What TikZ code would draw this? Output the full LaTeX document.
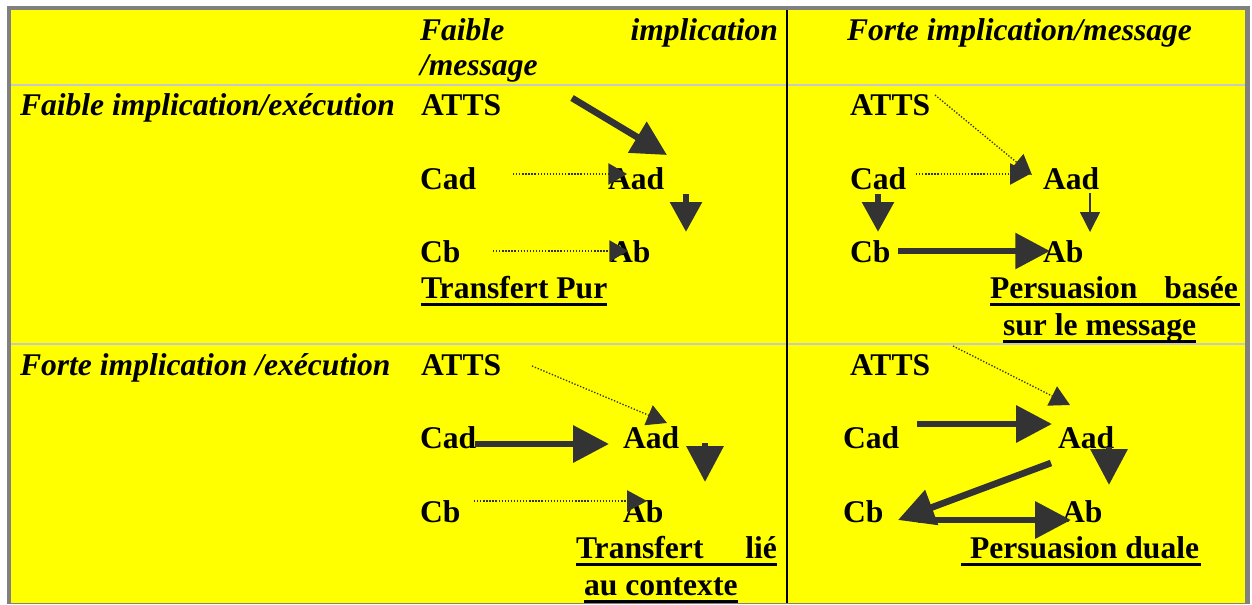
\documentclass[tikz,border=0pt]{standalone}
\usepackage{fontspec}
\setmainfont{Liberation Serif}
\usetikzlibrary{arrows.meta}

\definecolor{cellyellow}{RGB}{255,255,0}
\definecolor{framegrey}{RGB}{128,128,128}
\definecolor{rulegrey}{RGB}{200,200,200}
\definecolor{arrowgrey}{RGB}{51,51,51}

\begin{document}
\begin{tikzpicture}[
    x=0.75pt, y=-0.75pt,
    all/.style={inner sep=0pt, outer sep=0pt, anchor=base west},
    var/.style={all, font=\fontsize{23.7}{28}\selectfont\bfseries},
    head/.style={all, font=\fontsize{23.7}{28}\selectfont\bfseries\itshape},
    uline/.style={line width=2.25pt},
    big/.style={arrowgrey, line width=5pt, -{Triangle[length=27pt, width=27pt]}},
    mid/.style={big, -{Triangle[length=22.5pt, width=23pt]}},
    thin/.style={arrowgrey, line width=1.1pt, -{Triangle[length=15pt, width=15pt]}},
    weak/.style={arrowgrey, line width=1pt, dash pattern=on 1pt off 1.3pt,
        -{Triangle[length=15pt, width=16pt]}},
]
    \useasboundingbox (0,0) rectangle (1252,604);
    \fill[white] (0,0) rectangle (1252,604);
    \fill[framegrey] (7,6) rectangle (1250,604);
    \fill[cellyellow] (11,10) rectangle (1245,603);
    \draw[rulegrey, line width=1.5pt] (11,84.5) -- (1245,84.5);
    \draw[rulegrey, line width=1.5pt] (11,343.5) -- (1245,343.5);
    \draw[black, line width=1.5pt] (787,10) -- (787,603);

    % headers
    \node[head] (colweak) at (420,40) {\makebox[268.5pt][s]{Faible implication}};
    \node[head] (colweakb) at (420,75) {/message};
    \node[head] (colstrong) at (847,40) {Forte implication/message};
    \node[head] (rowweak) at (20,115) {Faible implication/exécution};
    \node[head] (rowstrong) at (20,375) {Forte implication /exécution};

    % faible / faible
    \node[var] (atts1) at (421,115) {ATTS};
    \node[var] (cad1) at (420,189) {Cad};
    \node[var] (aad1) at (608,189) {Aad};
    \node[var] (cb1) at (420,262) {Cb};
    \node[var] (ab1) at (610,262) {Ab};
    \node[var] (pur) at (421,298) {Transfert Pur};
    \coordinate (a1s) at (572,98);   \coordinate (a1e) at (667,155);
    \coordinate (c1s) at (513,174);  \coordinate (c1e) at (627,174);
    \coordinate (d1s) at (686,194);  \coordinate (d1e) at (686,232);
    \coordinate (b1s) at (493,251);  \coordinate (b1e) at (628,251);
    \draw[big, -{Triangle[length=26pt, width=26pt]}] (a1s) -- (a1e);
    \draw[weak, -{Triangle[length=14pt, width=16pt]}] (c1s) -- (c1e);
    \draw[mid] (d1s) -- (d1e);
    \draw[weak, -{Triangle[length=14pt, width=16pt]}] (b1s) -- (b1e);
    \draw[uline] ([yshift=-4.5pt]pur.base west) -- ([yshift=-4.5pt]pur.base east);

    % faible execution / forte message
    \node[var] (atts2) at (850,115) {ATTS};
    \node[var] (cad2) at (850,189) {Cad};
    \node[var] (aad2) at (1043,189) {Aad};
    \node[var] (cb2) at (850,262) {Cb};
    \node[var] (ab2) at (1043,262) {Ab};
    \node[var] (basee) at (990,298) {\makebox[186pt][s]{Persuasion basée}};
    \node[var] (baseeb) at (1003,335) {sur le message};
    \coordinate (a2s) at (935,95);   \coordinate (a2e) at (1032,175);
    \coordinate (c2s) at (916,174);  \coordinate (c2e) at (1030,174);
    \coordinate (d2s) at (878,194);  \coordinate (d2e) at (878,232);
    \coordinate (e2s) at (1090,193); \coordinate (e2e) at (1090,232);
    \coordinate (b2s) at (898,251);  \coordinate (b2e) at (1050,251);
    \draw[weak] (a2s) -- (a2e);
    \draw[weak] (c2s) -- (c2e);
    \draw[mid] (d2s) -- (d2e);
    \draw[thin] (e2s) -- (e2e);
    \draw[big, -{Triangle[length=26pt, width=26pt]}] (b2s) -- (b2e);
    \draw[uline] ([yshift=-4.5pt]basee.base west) -- ([xshift=1.5pt, yshift=-4.5pt]basee.base east);
    \draw[uline] ([yshift=-4.5pt]baseeb.base west) -- ([yshift=-4.5pt]baseeb.base east);

    % forte execution / faible message
    \node[var] (atts3) at (421,375) {ATTS};
    \node[var] (cad3) at (420,448) {Cad};
    \node[var] (aad3) at (623,448) {Aad};
    \node[var] (cb3) at (420,522) {Cb};
    \node[var] (ab3) at (623,522) {Ab};
    \node[var] (lie) at (576,558) {\makebox[150.75pt][s]{Transfert lié}};
    \node[var] (lieb) at (584,595) {au contexte};
    \coordinate (a3s) at (532,366);  \coordinate (a3e) at (667,423);
    \coordinate (c3s) at (475,444);  \coordinate (c3e) at (609,444);
    \coordinate (d3s) at (705,443);  \coordinate (d3e) at (705,482);
    \coordinate (b3s) at (474,501);  \coordinate (b3e) at (647,501);
    \draw[weak] (a3s) -- (a3e);
    \draw[big] (c3s) -- (c3e);
    \draw[big] (d3s) -- (d3e);
    \draw[weak] (b3s) -- (b3e);
    \draw[uline] ([yshift=-4.5pt]lie.base west) -- ([yshift=-4.5pt]lie.base east);
    \draw[uline] ([yshift=-4.5pt]lieb.base west) -- ([yshift=-4.5pt]lieb.base east);

    % forte / forte
    \node[var] (atts4) at (850,375) {ATTS};
    \node[var] (cad4) at (843,448) {Cad};
    \node[var] (aad4) at (1058,448) {Aad};
    \node[var] (cb4) at (843,522) {Cb};
    \node[var] (ab4) at (1062,522) {Ab};
    \node[var] (duale) at (970,558) {Persuasion duale};
    \coordinate (a4s) at (953,346);  \coordinate (a4e) at (1070,405);
    \coordinate (c4s) at (917,424);  \coordinate (c4e) at (1052,424);
    \coordinate (d4s) at (1109,447); \coordinate (d4e) at (1109,485);
    \coordinate (e4s) at (1051,463); \coordinate (e4e) at (898,520);
    \coordinate (b4s) at (918,520);  \coordinate (b4e) at (1071,520);
    \draw[weak] (a4s) -- (a4e);
    \draw[big] (c4s) -- (c4e);
    \draw[big] (d4s) -- (d4e);
    \draw[big] (e4s) -- (e4e);
    \draw[big] (b4s) -- (b4e);
    \draw[uline] ([xshift=-6.75pt, yshift=-4.5pt]duale.base west) -- ([xshift=1.5pt, yshift=-4.5pt]duale.base east);
\end{tikzpicture}
\end{document}
